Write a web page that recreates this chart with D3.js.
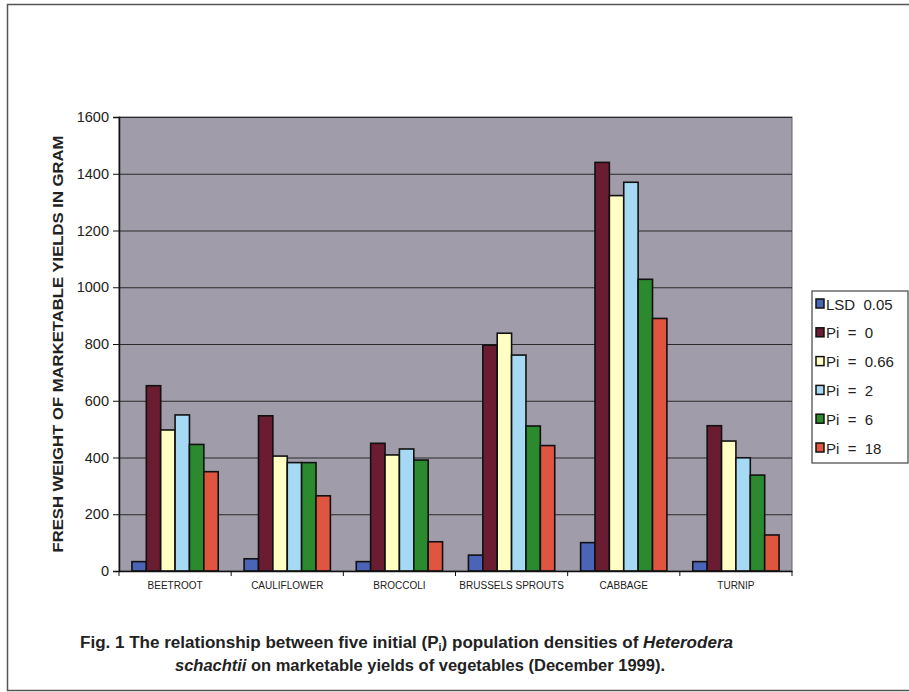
<!DOCTYPE html>
<html><head><meta charset="utf-8">
<script src="https://cdn.jsdelivr.net/npm/d3@7"></script>
<style>body{margin:0;background:#fff}svg{display:block}text{font-family:Arial,"Liberation Sans",sans-serif}</style>
</head><body><svg id="c" width="909" height="692"></svg>
<script>
const categories = ["BEETROOT","CAULIFLOWER","BROCCOLI","BRUSSELS SPROUTS","CABBAGE","TURNIP"];
const seriesNames = ["LSD  0.05","Pi  =  0","Pi  =  0.66","Pi  =  2","Pi  =  6","Pi  =  18"];
const seriesColors = ["#4a64b8","#6a1c30","#ffffc4","#a6daf4","#2c8a2e","#e0553f"];
const lsd   = [33, 43, 33, 56, 100, 33];
const pi0   = [653, 547, 450, 796, 1440, 512];
const pi066 = [497, 405, 409, 838, 1323, 458];
const pi2   = [550, 382, 430, 761, 1370, 399];
const pi6   = [446, 382, 391, 511, 1028, 338];
const pi18  = [350, 265, 103, 442, 890, 127];
const yTicks = [0,200,400,600,800,1000,1200,1400,1600];
const series = [lsd, pi0, pi066, pi2, pi6, pi18];

const svg = d3.select("#c");
svg.append("rect").attr("x",7.5).attr("y",4.5).attr("width",910).attr("height",686)
  .attr("fill","none").attr("stroke","#555").attr("stroke-width",1.5);

const L=119, R=792, T=117, B=571;
const x0 = d3.scaleBand().domain(categories).range([L,R]);
const x1 = d3.scaleBand().domain(d3.range(series.length)).range([0,x0.bandwidth()]).paddingOuter(0.9).paddingInner(0);
const y = d3.scaleLinear().domain([0,1600]).range([B,T]);

svg.append("rect").attr("x",L).attr("y",T).attr("width",R-L).attr("height",B-T)
  .attr("fill","#a09ca9").attr("stroke","#666").attr("stroke-width",1);

svg.append("g").selectAll("line").data(yTicks.filter(d=>d>0)).join("line")
  .attr("x1",L).attr("x2",R).attr("y1",d=>y(d)+0.5).attr("y2",d=>y(d)+0.5)
  .attr("stroke","#2a2a2a").attr("stroke-width",1);

const g = svg.append("g");
categories.forEach((c,ci)=>{
  series.forEach((s,si)=>{
    g.append("rect").attr("x",x0(c)+x1(si)).attr("y",y(s[ci]))
      .attr("width",x1.bandwidth()).attr("height",B-y(s[ci]))
      .attr("fill",seriesColors[si]).attr("stroke","#111").attr("stroke-width",1.6);
  });
});

const ya = svg.append("g").attr("transform",`translate(${L},0)`)
  .call(d3.axisLeft(y).tickValues(yTicks).tickFormat(d3.format("d")).tickSize(6).tickPadding(4));
ya.select(".domain").attr("stroke","#111").attr("stroke-width",1.5);
ya.selectAll(".tick line").attr("stroke","#111");
ya.selectAll(".tick text").attr("font-size",14.5).attr("fill","#222").attr("font-family","Arial,'Liberation Sans',sans-serif");

const xa = svg.append("g").attr("transform",`translate(0,${B})`)
  .call(d3.axisBottom(x0).tickSize(0).tickPadding(11));
xa.select(".domain").attr("stroke","#111").attr("stroke-width",1.5);
xa.selectAll(".tick text").attr("font-size",10).attr("fill","#222").attr("font-family","Arial,'Liberation Sans',sans-serif");
svg.append("g").selectAll("line").data(d3.range(categories.length+1)).join("line")
  .attr("x1",d=>L+d*x0.step()).attr("x2",d=>L+d*x0.step())
  .attr("y1",B).attr("y2",B+5).attr("stroke","#111").attr("stroke-width",1);

svg.append("text").attr("transform","translate(63,344) rotate(-90)")
  .attr("text-anchor","middle").attr("font-size",14).attr("font-weight","bold").attr("fill","#222")
  .attr("textLength",417).attr("lengthAdjust","spacingAndGlyphs")
  .text("FRESH WEIGHT OF MARKETABLE YIELDS IN GRAM");

svg.append("rect").attr("x",812).attr("y",291).attr("width",96).attr("height",172)
  .attr("fill","#fff").attr("stroke","#444").attr("stroke-width",1.2);
const lg = svg.append("g").selectAll("g").data(seriesNames).join("g")
  .attr("transform",(d,i)=>`translate(816,${304+i*28.8})`);
lg.append("rect").attr("x",0).attr("y",-5).attr("width",8).attr("height",9)
  .attr("fill",(d,i)=>seriesColors[i]).attr("stroke","#111").attr("stroke-width",1.5);
lg.append("text").attr("x",10).attr("y",5.5).attr("font-size",15).attr("fill","#222")
  .style("white-space","pre").text(d=>d);

const cap1 = svg.append("text").attr("x",80).attr("y",648)
  .attr("font-size",16).attr("font-weight","bold").attr("fill","#222")
  .attr("textLength",653).attr("lengthAdjust","spacingAndGlyphs");
cap1.append("tspan").text("Fig. 1 The relationship between five initial (P");
cap1.append("tspan").attr("font-size",10).attr("dy",3).text("i");
cap1.append("tspan").attr("dy",-3).text(") population densities of ");
cap1.append("tspan").attr("font-style","italic").text("Heterodera");
const cap2 = svg.append("text").attr("x",175).attr("y",671)
  .attr("font-size",16).attr("font-weight","bold").attr("fill","#222")
  .attr("textLength",490).attr("lengthAdjust","spacingAndGlyphs");
cap2.append("tspan").attr("font-style","italic").text("schachtii");
cap2.append("tspan").text(" on marketable yields of vegetables (December 1999).");
</script></body></html>
